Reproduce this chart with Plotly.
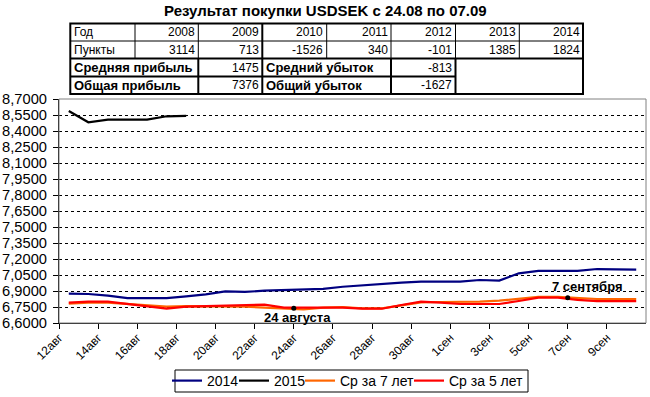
import pandas as pd
import plotly.graph_objects as go

# ---------------- data ----------------
days = (pd.date_range("2014-08-12", periods=30, freq="D") + pd.Timedelta(hours=12)).tolist()

s2014 = [6.875, 6.872, 6.856, 6.834, 6.834, 6.834, 6.850, 6.869, 6.897, 6.891,
         6.903, 6.909, 6.909, 6.920, 6.940, 6.955, 6.966, 6.978, 6.987, 6.987,
         6.987, 7.003, 6.997, 7.066, 7.088, 7.088, 7.088, 7.106, 7.106, 7.100]
s2015 = [8.587, 8.482, 8.506, 8.506, 8.506, 8.538, 8.541]
avg7 = [6.781, 6.791, 6.791, 6.778, 6.762, 6.753, 6.759, 6.759, 6.756, 6.753,
        6.744, 6.734, 6.728, 6.744, 6.750, 6.738, 6.738, 6.766, 6.794, 6.797,
        6.797, 6.800, 6.809, 6.825, 6.844, 6.844, 6.831, 6.825, 6.825, 6.825]
avg5 = [6.791, 6.800, 6.800, 6.778, 6.762, 6.734, 6.753, 6.759, 6.759, 6.772,
        6.772, 6.744, 6.744, 6.744, 6.744, 6.734, 6.734, 6.769, 6.800, 6.791,
        6.778, 6.778, 6.778, 6.806, 6.837, 6.837, 6.816, 6.805, 6.805, 6.805]

series_names = ["2014", "2015", "Ср за 7 лет", "Ср за 5 лет"]

tick_dates = ["2014-08-12", "2014-08-14", "2014-08-16", "2014-08-18", "2014-08-20",
              "2014-08-22", "2014-08-24", "2014-08-26", "2014-08-28", "2014-08-30",
              "2014-09-01", "2014-09-03", "2014-09-05", "2014-09-07", "2014-09-09"]
tick_text = ["12авг", "14авг", "16авг", "18авг", "20авг", "22авг", "24авг", "26авг",
             "28авг", "30авг", "1сен", "3сен", "5сен", "7сен", "9сен"]

mark_dates = ["2014-08-24", "2014-09-07"]
mark_values = [6.738, 6.837]
mark_labels = ["24 августа", "7 сентября"]

title_text = "Результат покупки USDSEK с 24.08 по 07.09"
table_years = [2008, 2009, 2010, 2011, 2012, 2013, 2014]
table_points = [3114, 713, -1526, 340, -101, 1385, 1824]
avg_profit, total_profit = 1475, 7376
avg_loss, total_loss = -813, -1627

# ---------------- layout helpers ----------------
W, H = 650, 397
ML, MR, MT, MB = 59, 4, 99, 74
PW, PH = W - ML - MR, H - MT - MB
FONT = "Liberation Sans, Arial, sans-serif"


def X(px):
    return (px - ML) / PW


def Y(py):
    return (H - MB - py) / PH


fig = go.Figure()

colors = ["#000080", "#000000", "#FF6600", "#FF0000"]
ys = [s2014, s2015, avg7, avg5]
legend_ids = ["legend", "legend2", "legend3", "legend4"]
for name, col, yv, lid in zip(series_names, colors, ys, legend_ids):
    fig.add_trace(go.Scatter(x=days[:len(yv)], y=yv, mode="lines", name=name,
                             line=dict(color=col, width=2.2), legend=lid))

fig.add_trace(go.Scatter(x=mark_dates, y=mark_values, mode="markers",
                         marker=dict(color="black", size=5), showlegend=False))

# annotations for marks
fig.add_annotation(x=mark_dates[0], y=mark_values[0], text=mark_labels[0], showarrow=False,
                   xanchor="center", yanchor="middle", xshift=4, yshift=-9.5,
                   font=dict(family=FONT, size=13, color="black", weight="bold"))
fig.add_annotation(x=mark_dates[1], y=mark_values[1], text=mark_labels[1], showarrow=False,
                   xanchor="center", yanchor="middle", xshift=20, yshift=11,
                   font=dict(family=FONT, size=13, color="black", weight="bold"))

# title
fig.add_annotation(x=X(325), y=Y(10), xref="paper", yref="paper", text=title_text,
                   showarrow=False, xanchor="center", yanchor="middle",
                   font=dict(family=FONT, size=15, color="black", weight="bold"))

# ---------------- table ----------------
cx = [70.3, 135, 198.3, 262.3, 326.7, 391, 455.5, 519.3, 583]
ry = [23.5, 41, 58.5, 76.5, 94]
shapes = []


def line(x0, y0, x1, y1, w):
    shapes.append(dict(type="line", xref="paper", yref="paper", x0=X(x0), y0=Y(y0),
                       x1=X(x1), y1=Y(y1), line=dict(color="black", width=w)))


line(cx[0], ry[1], cx[-1], ry[1], 1)
for i in range(1, 8):
    line(cx[i], ry[0], cx[i], ry[2], 2 if i == 3 else 1)
line(cx[0], ry[2], cx[-1], ry[2], 2)
line(cx[0], ry[3], cx[6], ry[3], 2)
for i in (2, 3, 5, 6):
    line(cx[i], ry[2], cx[i], ry[4], 2)
shapes.append(dict(type="rect", xref="paper", yref="paper", x0=X(cx[0]), y0=Y(ry[0]),
                   x1=X(cx[-1]), y1=Y(ry[4]), line=dict(color="black", width=2)))


def cell(text, xpx, ypx, anchor, bold=False, size=12):
    fig.add_annotation(x=X(xpx), y=Y(ypx), xref="paper", yref="paper", text=text,
                       showarrow=False, xanchor=anchor, yanchor="middle",
                       font=dict(family=FONT, size=size, color="black",
                                 weight="bold" if bold else "normal"))


def rc(r):
    return (ry[r] + ry[r + 1]) / 2


cell("Год", cx[0] + 1.5, rc(0), "left")
cell("Пункты", cx[0] + 1.5, rc(1), "left")
for i, (yr, pt) in enumerate(zip(table_years, table_points)):
    cell(str(yr), cx[i + 2] - 1.5, rc(0), "right")
    cell(str(pt), cx[i + 2] - 1.5, rc(1), "right")
cell("Средняя прибыль", cx[0] + 1.5, rc(2), "left", True, 13)
cell("Общая прибыль", cx[0] + 1.5, rc(3), "left", True, 13)
cell(str(avg_profit), cx[3] - 1.5, rc(2), "right")
cell(str(total_profit), cx[3] - 1.5, rc(3), "right")
cell("Средний убыток", cx[3] + 1.5, rc(2), "left", True, 13)
cell("Общий убыток", cx[3] + 1.5, rc(3), "left", True, 13)
cell(str(avg_loss), cx[6] - 1.5, rc(2), "right")
cell(str(total_loss), cx[6] - 1.5, rc(3), "right")

# plot area border (gray)
shapes.append(dict(type="rect", xref="paper", yref="paper", x0=0, y0=0, x1=1, y1=1,
                   line=dict(color="#808080", width=1), layer="above"))
# legend box
shapes.append(dict(type="rect", xref="paper", yref="paper", x0=X(175), y0=Y(392),
                   x1=X(528), y1=Y(370), line=dict(color="black", width=1)))

legend_text_x = [207, 274, 340, 449]
legend_cfg = {}
for lid, tx in zip(legend_ids, legend_text_x):
    legend_cfg[lid] = dict(x=X(tx - 40), y=Y(381), xanchor="left", yanchor="middle",
                           orientation="h", bgcolor="rgba(0,0,0,0)", borderwidth=0,
                           font=dict(family=FONT, size=14, color="black"))

fig.update_layout(
    template="none",
    width=W, height=H,
    margin=dict(l=ML, r=MR, t=MT, b=MB, autoexpand=False),
    paper_bgcolor="white", plot_bgcolor="white",
    separators=", ",
    showlegend=True,
    hovermode=False,
    shapes=shapes,
    font=dict(family=FONT, color="black"),
    xaxis=dict(type="date", range=["2014-08-12", "2014-09-11"], tickmode="array",
               tickvals=tick_dates, ticktext=tick_text, tickangle=-45,
               ticks="outside", ticklen=5, tickcolor="black", tickwidth=1,
               ticklabelstandoff=-3,
               showline=True, linecolor="black", linewidth=1, showgrid=False,
               zeroline=False, automargin=False,
               tickfont=dict(family=FONT, size=12, color="black")),
    yaxis=dict(range=[6.6, 8.7], tick0=6.6, dtick=0.15, tickformat=".4f",
               ticks="outside", ticklen=5, tickcolor="black", tickwidth=1,
               ticklabelstandoff=3,
               showline=True, linecolor="black", linewidth=1,
               showgrid=True, gridcolor="black", gridwidth=1, griddash="3px,3px",
               zeroline=False, automargin=False,
               tickfont=dict(family=FONT, size=14.7, color="black")),
    **legend_cfg,
)

fig.write_html("out.html", config={"displayModeBar": False},
               post_script="document.body.style.margin='0';")
